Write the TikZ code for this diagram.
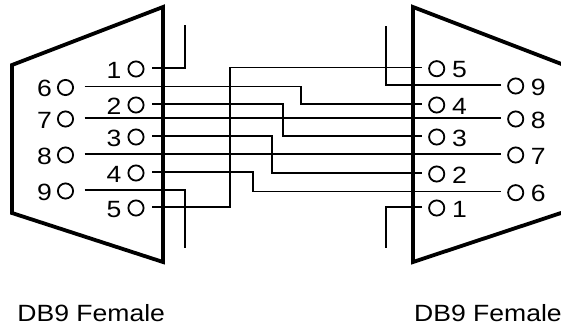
\documentclass[tikz,border=0pt]{standalone}
\usepackage{fontspec}
\setmainfont{Liberation Sans}[FakeStretch=1.13]
\begin{document}
\begin{tikzpicture}[x=1pt,y=-1pt,
  shell/.style={line width=3.8pt},
  wire/.style={line width=1.2pt},
  pinc/.style={circle, draw, line width=1.8pt, minimum size=15.2pt, inner sep=0pt},
  lab/.style={inner sep=0pt, font=\fontsize{23.5}{28}\selectfont},
  title/.style={inner sep=0pt, anchor=base west, font=\fontsize{23.5}{28}\selectfont}]
\path[use as bounding box] (0,0) rectangle (561,327);
\clip (0,0) rectangle (561,327);
% connector shells
\draw[shell] (12,65) -- (163,7) -- (163,262) -- (12,213) -- cycle;
\draw[shell] (413,7) -- (564,65) -- (564,212) -- (413,262) -- cycle;
% left pins (inner column 1-5, outer column 6-9)
\foreach \n/\y in {1/68,2/104,3/136,4/172,5/207}{
  \node[pinc] (L\n) at (136,\y+1) {};
  \node[lab, anchor=base east] (tL\n) at (121.5,\y+10) {\n};
  \coordinate (wL\n) at (152,\y);
}
\foreach \n/\y in {6/86.5,7/118,8/154,9/190}{
  \node[pinc] (L\n) at (65.5,\y+1) {};
  \node[lab, anchor=base east] (tL\n) at (52,\y+10) {\n};
  \coordinate (wL\n) at (84.5,\y);
}
% right pins (inner column 5-1, outer column 9-6)
\foreach \n/\y in {5/67.7,4/104,3/136,2/173,1/207}{
  \node[pinc] (R\n) at (436.7,\y+1) {};
  \node[lab, anchor=base west] (tR\n) at (452,\y+10) {\n};
  \coordinate (wR\n) at (422,\y);
}
\foreach \n/\y in {9/85,8/118,7/154,6/191.7}{
  \node[pinc] (R\n) at (515.7,\y+1) {};
  \node[lab, anchor=base west] (tR\n) at (530.6,\y+10) {\n};
  \coordinate (wR\n) at (501,\y);
}
% free ends
\coordinate (gLtop) at (185,25);
\coordinate (gLbot) at (185,248);
\coordinate (gRtop) at (386,26);
\coordinate (gRbot) at (386,248);
% wires
\draw[wire] (wL1) -| (gLtop);
\draw[wire] (wL9) -| (gLbot);
\draw[wire] (wR9) -| (gRtop);
\draw[wire] (wR1) -| (gRbot);
\draw[wire] (wL5) -| (230,67.7) -- (wR5);
\draw[wire] (wL6) -| (301,104) -- (wR4);
\draw[wire] (wL2) -| (283,136) -- (wR3);
\draw[wire] (wL7) -- (wR8);
\draw[wire] (wL3) -| (272,173) -- (wR2);
\draw[wire] (wL8) -- (wR7);
\draw[wire] (wL4) -| (253,191.7) -- (wR6);
% titles
\node[title] (tl) at (17.2,321) {DB9 Female};
\node[title] (tr) at (414,321) {DB9 Female};
\end{tikzpicture}
\end{document}
